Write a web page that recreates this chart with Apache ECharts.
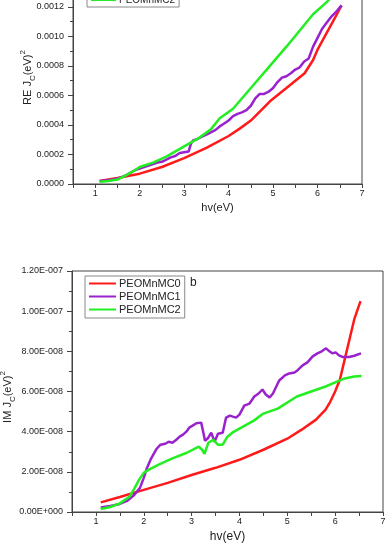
<!DOCTYPE html>
<html>
<head>
<meta charset="utf-8" />
<title>RE / IM Jc</title>
<script src="https://cdn.jsdelivr.net/npm/echarts@6/dist/echarts.min.js"></script>
<style>
html, body { margin: 0; padding: 0; background: #fff; }
#main { width: 387px; height: 546px; }
</style>
</head>
<body>
<div id="main"></div>
<script>
var names = ['PEOMnMC0', 'PEOMnMC1', 'PEOMnMC2'];
var colors = ['#ff1a1a', '#9a22cc', '#22ee22'];

// ---- top panel: RE Jc(eV)^2 ----
var reX0 = [1.1, 1.5, 2.0, 2.5, 3.0, 3.5, 4.0, 4.25, 4.5, 4.93, 5.3, 5.71, 5.9, 6.0, 6.2, 6.4, 6.54];
var reY0 = [2.0e-5, 4.0e-5, 7.0e-5, 1.15e-4, 1.75e-4, 2.45e-4, 3.25e-4, 3.75e-4, 4.3e-4, 5.6e-4, 6.5e-4, 7.5e-4, 8.4e-4, 9.1e-4, 1.02e-3, 1.13e-3, 1.21e-3];

var reX1 = [1.1, 1.3, 1.5, 1.7, 1.9, 2.0, 2.2, 2.4, 2.5, 2.6, 2.7, 2.8, 2.9, 3.0, 3.1, 3.15, 3.2, 3.3, 3.4, 3.5, 3.6, 3.7, 3.8, 3.9, 4.0,
            4.1, 4.2, 4.3, 4.4, 4.5, 4.6, 4.7, 4.8, 4.9, 5.0, 5.1, 5.2, 5.3, 5.4, 5.5, 5.6, 5.7, 5.8, 5.9, 6.0, 6.1, 6.2, 6.3, 6.4, 6.54];
var reY1 = [2.0e-5, 2.5e-5, 3.5e-5, 6.0e-5, 9.5e-5, 1.05e-4, 1.25e-4, 1.45e-4, 1.5e-4, 1.65e-4, 1.8e-4, 1.9e-4, 2.1e-4, 2.15e-4, 2.2e-4, 2.7e-4, 2.95e-4, 3.05e-4, 3.2e-4, 3.35e-4, 3.5e-4, 3.65e-4, 3.9e-4, 4.1e-4, 4.3e-4,
            4.6e-4, 4.75e-4, 4.85e-4, 5.0e-4, 5.3e-4, 5.8e-4, 6.1e-4, 6.1e-4, 6.25e-4, 6.5e-4, 6.9e-4, 7.2e-4, 7.3e-4, 7.5e-4, 7.75e-4, 7.9e-4, 8.3e-4, 8.5e-4, 9.3e-4, 9.9e-4, 1.05e-3, 1.09e-3, 1.13e-3, 1.16e-3, 1.21e-3];

var reX2 = [1.1, 1.3, 1.5, 1.7, 1.9, 2.0, 2.3, 2.6, 3.0, 3.3, 3.6, 3.8, 4.1, 4.5, 4.9, 5.3, 5.6, 5.9, 6.2, 6.55];
var reY2 = [1.5e-5, 2.0e-5, 3.0e-5, 6.0e-5, 9.5e-5, 1.15e-4, 1.45e-4, 1.85e-4, 2.55e-4, 3.05e-4, 3.7e-4, 4.45e-4, 5.1e-4, 6.5e-4, 7.9e-4, 9.3e-4, 1.04e-3, 1.15e-3, 1.23e-3, 1.34e-3];

// ---- bottom panel: IM Jc(eV)^2 ----
var imX0 = [1.1, 1.5, 2.0, 2.5, 3.0, 3.5, 4.0, 4.5, 5.0, 5.3, 5.6, 5.8, 5.9, 6.0, 6.1, 6.2, 6.3, 6.4, 6.53];
var imY0 = [0.48e-8, 0.75e-8, 1.1e-8, 1.45e-8, 1.84e-8, 2.2e-8, 2.6e-8, 3.1e-8, 3.65e-8, 4.1e-8, 4.6e-8, 5.1e-8, 5.5e-8, 6.0e-8, 6.6e-8, 7.6e-8, 8.6e-8, 9.6e-8, 10.5e-8];

var imX1 = [1.1, 1.3, 1.5, 1.65, 1.8, 1.92, 2.0, 2.06, 2.15, 2.27, 2.35, 2.45, 2.52, 2.6, 2.68, 2.75, 2.82, 2.89, 2.95, 3.02,
            3.1, 3.2, 3.25, 3.28, 3.34, 3.41, 3.48, 3.55, 3.65, 3.72, 3.8, 3.86, 3.93, 4.0, 4.1, 4.21, 4.31, 4.4, 4.48, 4.55,
            4.63, 4.7, 4.83, 4.95, 5.04, 5.15, 5.21, 5.32, 5.42, 5.53, 5.63, 5.72, 5.81, 5.88, 5.94, 6.01, 6.08, 6.15, 6.29, 6.4, 6.54];
var imY1 = [0.23e-8, 0.3e-8, 0.4e-8, 0.55e-8, 0.85e-8, 1.2e-8, 1.7e-8, 2.15e-8, 2.65e-8, 3.15e-8, 3.35e-8, 3.4e-8, 3.5e-8, 3.45e-8, 3.6e-8, 3.75e-8, 3.85e-8, 4.0e-8, 4.2e-8, 4.3e-8,
            4.42e-8, 4.45e-8, 3.9e-8, 3.55e-8, 3.67e-8, 3.95e-8, 3.5e-8, 3.9e-8, 3.95e-8, 4.7e-8, 4.8e-8, 4.75e-8, 4.7e-8, 4.85e-8, 5.3e-8, 5.4e-8, 5.75e-8, 5.9e-8, 6.1e-8, 5.85e-8,
            5.7e-8, 5.9e-8, 6.55e-8, 6.8e-8, 6.9e-8, 6.95e-8, 7.05e-8, 7.3e-8, 7.45e-8, 7.75e-8, 7.9e-8, 8.0e-8, 8.15e-8, 8.0e-8, 7.9e-8, 7.95e-8, 7.8e-8, 7.72e-8, 7.72e-8, 7.78e-8, 7.9e-8];

var imX2 = [1.1, 1.3, 1.5, 1.7, 1.8, 1.9, 2.0, 2.1, 2.3, 2.6, 2.9, 3.15, 3.22, 3.27, 3.35, 3.45, 3.55, 3.65, 3.75, 3.85,
            4.0, 4.3, 4.5, 4.8, 5.2, 5.5, 5.8, 6.0, 6.2, 6.4, 6.55];
var imY2 = [0.15e-8, 0.25e-8, 0.43e-8, 0.76e-8, 1.15e-8, 1.6e-8, 1.95e-8, 2.1e-8, 2.35e-8, 2.67e-8, 2.95e-8, 3.25e-8, 3.1e-8, 2.9e-8, 3.45e-8, 3.6e-8, 3.35e-8, 3.35e-8, 3.75e-8, 3.95e-8,
            4.15e-8, 4.55e-8, 4.9e-8, 5.15e-8, 5.75e-8, 6.0e-8, 6.25e-8, 6.45e-8, 6.65e-8, 6.75e-8, 6.77e-8];

function pairs(xs, ys) {
	return xs.map(function(x, i) { return [x, ys[i]]; });
}

function sci(v) {
	if (v === 0) return '0.00E+000';
	var e = Math.floor(Math.log10(Math.abs(v)) + 1e-9);
	var m = v / Math.pow(10, e);
	var s = String(Math.abs(e));
	while (s.length < 3) s = '0' + s;
	return m.toFixed(2) + 'E' + (e < 0 ? '-' : '+') + s;
}

var font = 'Liberation Sans, Arial, sans-serif';
var axisCol = '#444';

function xAxisFor(grid, nameGap, nameSize) {
	return {
		type: 'value', gridIndex: grid, min: 0.5, max: 7, interval: 0.5,
		name: 'hv(eV)', nameLocation: 'middle', nameGap: nameGap, nameMoveOverlap: false,
		nameTextStyle: { fontFamily: font, fontSize: nameSize, color: '#222' },
		axisLine: { lineStyle: { color: axisCol } },
		axisTick: { length: 4, lineStyle: { color: axisCol } },
		axisLabel: {
			fontFamily: font, fontSize: 9, color: '#222', margin: 5,
			formatter: function(v) { return Math.abs(v - Math.round(v)) < 1e-6 ? String(Math.round(v)) : ''; }
		},
		splitLine: { show: false }
	};
}

var rich = {
	a: { fontFamily: font, fontSize: 11, color: '#222', lineHeight: 18, verticalAlign: 'middle' },
	s: { fontFamily: font, fontSize: 8, color: '#222', lineHeight: 8, verticalAlign: 'bottom' },
	p: { fontFamily: font, fontSize: 8, color: '#222', lineHeight: 8, verticalAlign: 'top' }
};

var series = [];
var re = [[reX0, reY0], [reX1, reY1], [reX2, reY2]];
var im = [[imX0, imY0], [imX1, imY1], [imX2, imY2]];
for (var i = 0; i < 3; i++) {
	series.push({
		name: names[i], type: 'line', xAxisIndex: 0, yAxisIndex: 0,
		data: pairs(re[i][0], re[i][1]), symbol: 'none',
		lineStyle: { color: colors[i], width: 2.5 }, itemStyle: { color: colors[i] }
	});
}
for (var j = 0; j < 3; j++) {
	series.push({
		name: names[j], type: 'line', xAxisIndex: 1, yAxisIndex: 1,
		data: pairs(im[j][0], im[j][1]), symbol: 'none',
		lineStyle: { color: colors[j], width: 2.5 }, itemStyle: { color: colors[j] }
	});
}

var chart = echarts.init(document.getElementById('main'));
chart.setOption({
	animation: false,
	backgroundColor: '#fff',
	grid: [
		{ left: 73, top: -5, width: 289, height: 189, show: true, borderColor: axisCol, borderWidth: 1, outerBoundsMode: 'none' },
		{ left: 72, top: 271, width: 311, height: 241, show: true, borderColor: axisCol, borderWidth: 1, outerBoundsMode: 'none' }
	],
	xAxis: [xAxisFor(0, 18, 11), xAxisFor(1, 19, 12)],
	yAxis: [
		{
			type: 'value', gridIndex: 0, min: 0, max: 0.00128, interval: 0.0002,
			name: '{a|RE J}{s|C}{a|(eV)}{p|2}', nameLocation: 'middle', nameGap: 36, nameMoveOverlap: false,
			nameTextStyle: { rich: rich, padding: [0, 0, 0, 24] },
			axisLine: { show: true, lineStyle: { color: axisCol } },
			axisTick: { show: true, length: 5, lineStyle: { color: axisCol } },
			minorTick: { show: true, splitNumber: 2, length: 3, lineStyle: { color: axisCol } },
			axisLabel: {
				fontFamily: font, fontSize: 9, color: '#222', margin: 9,
				formatter: function(v) {
					var k = v / 0.0002;
					return Math.abs(k - Math.round(k)) < 1e-6 ? v.toFixed(4) : '';
				}
			},
			splitLine: { show: false }
		},
		{
			type: 'value', gridIndex: 1, min: 0, max: 1.2e-7, interval: 2e-8,
			name: '{a|IM J}{s|C}{a|(eV)}{p|2}', nameLocation: 'middle', nameGap: 55, nameMoveOverlap: false,
			nameTextStyle: { rich: rich, padding: [0, 11, 0, 0] },
			axisLine: { show: true, lineStyle: { color: axisCol } },
			axisTick: { show: true, length: 5, lineStyle: { color: axisCol } },
			minorTick: { show: true, splitNumber: 2, length: 3, lineStyle: { color: axisCol } },
			axisLabel: { fontFamily: font, fontSize: 9, color: '#222', margin: 9, formatter: sci },
			splitLine: { show: false }
		}
	],
	legend: [
		{
			data: names, orient: 'vertical', left: 87, top: -31,
			itemWidth: 25, itemHeight: 12, itemGap: 2, padding: [2, 4, 2, 3],
			borderColor: '#888', borderWidth: 1,
			itemStyle: { opacity: 0 },
			textStyle: { fontFamily: font, fontSize: 10, color: '#222', padding: [0, 0, 0, -2] }
		},
		{
			data: names, orient: 'vertical', left: 85, top: 276,
			itemWidth: 27, itemHeight: 12, itemGap: 2, padding: [2, 4, 3, 3],
			borderColor: '#888', borderWidth: 1,
			itemStyle: { opacity: 0 },
			textStyle: { fontFamily: font, fontSize: 11, color: '#222', padding: [0, 0, 0, -2] }
		}
	],
	graphic: [
		{ type: 'text', left: 190, top: 277, style: { text: 'b', fontFamily: font, fontSize: 12, fill: '#222' } }
	],
	series: series
});
</script>
</body>
</html>
